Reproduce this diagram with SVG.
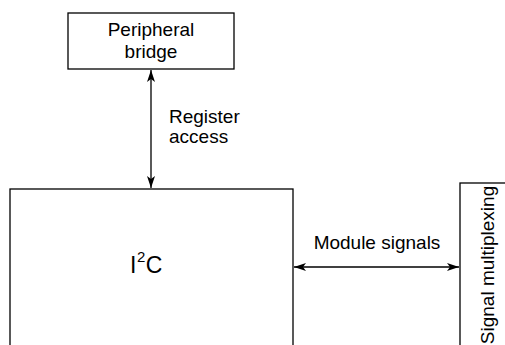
<svg xmlns="http://www.w3.org/2000/svg" width="505" height="345" viewBox="0 0 505 345">
<style>
.box{fill:#fff;stroke:#000;stroke-width:1.3}
.t{font-family:"Liberation Sans",Arial,sans-serif;font-size:19px;fill:#000}
.c{fill:none;stroke:#000;stroke-width:1.3}
</style>
<defs>
<marker id="ah" viewBox="0 0 12 8" refX="12" refY="4" markerWidth="12" markerHeight="8" markerUnits="userSpaceOnUse" orient="auto-start-reverse">
<path d="M0,0 L12,4 L0,8 L3,4 z" fill="#000"/>
</marker>
</defs>
<rect width="505" height="345" fill="#fff"/>
<g id="connectors">
<line class="c" x1="151" y1="70" x2="151" y2="188" marker-start="url(#ah)" marker-end="url(#ah)"/>
<line class="c" x1="294" y1="267" x2="459" y2="267" marker-start="url(#ah)" marker-end="url(#ah)"/>
<text class="t" x="169" y="123">Register</text>
<text class="t" x="169" y="143">access</text>
<text class="t" x="377" y="249" text-anchor="middle">Module signals</text>
</g>
<g id="peripheral-bridge">
<rect class="box" x="68" y="13" width="166" height="56"/>
<text class="t" x="151" y="36" text-anchor="middle">Peripheral</text>
<text class="t" x="151" y="58" text-anchor="middle">bridge</text>
</g>
<g id="i2c">
<rect class="box" x="10" y="189" width="283" height="170"/>
<text class="t" x="130" y="273" style="font-size:23px">I<tspan dx="0.5" dy="-11" style="font-size:15px">2</tspan><tspan dx="0.5" dy="11">C</tspan></text>
</g>
<g id="signal-multiplexing">
<rect class="box" x="460" y="183" width="60" height="180"/>
<text class="t" transform="translate(494,265) rotate(-90)" text-anchor="middle">Signal multiplexing</text>
</g>
</svg>
